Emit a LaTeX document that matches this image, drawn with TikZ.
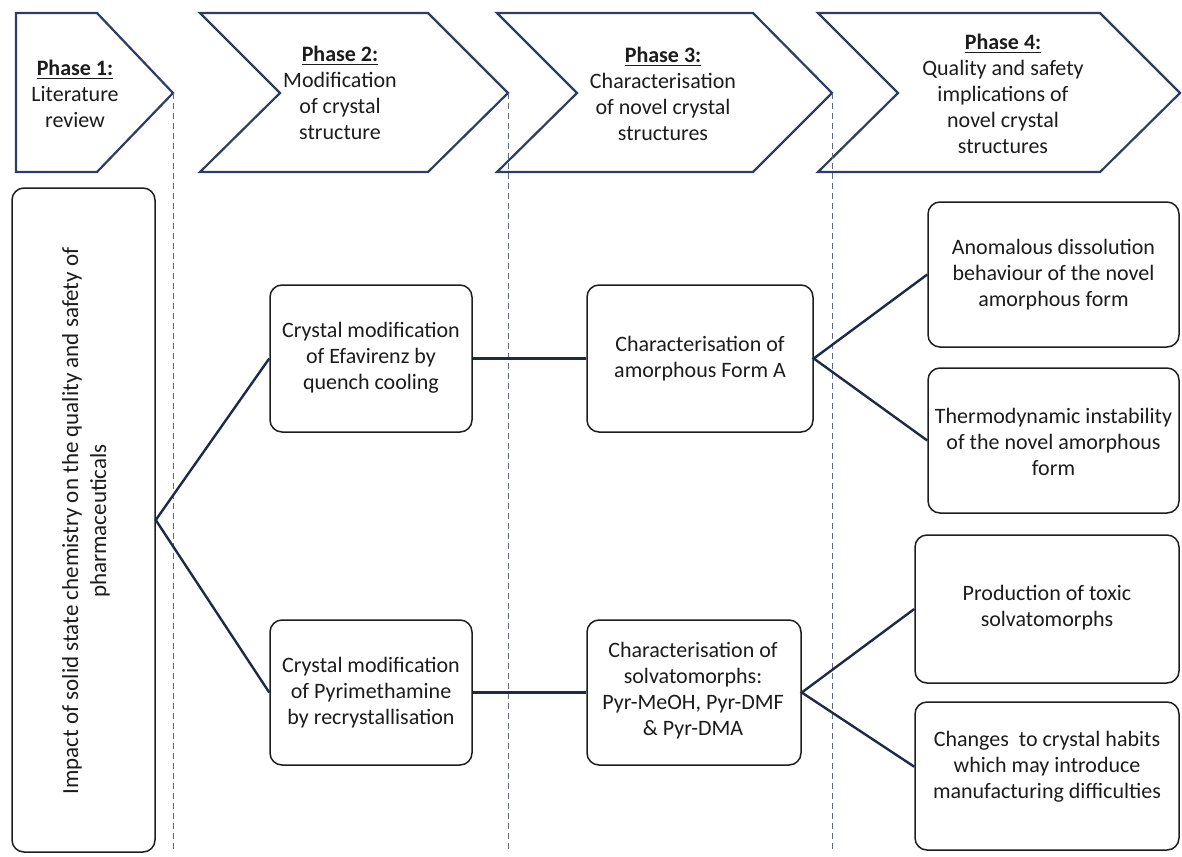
\documentclass[tikz,border=0pt]{standalone}
\usepackage{fontspec}
\setmainfont{Carlito}
\definecolor{chevblue}{RGB}{44,62,98}
\definecolor{guidegray}{RGB}{95,105,125}
\definecolor{boxblack}{RGB}{30,30,30}
\definecolor{textgray}{RGB}{28,28,28}
\definecolor{linkblue}{RGB}{30,42,70}
\newcommand{\phasehead}[1]{\underline{\textbf{#1}}}
\begin{document}
\begin{tikzpicture}[x=0.5pt,y=-0.5pt,
  chev/.style={draw=chevblue, line width=1.1pt, line join=miter, fill=white},
  guide/.style={draw=guidegray, line width=0.5pt, dash pattern=on 3pt off 2pt},
  box/.style={draw=boxblack, line width=0.75pt, rounded corners=6pt, fill=white, inner sep=0pt},
  txt/.style={align=center, text=textgray, font=\fontsize{11}{13}\selectfont, inner sep=0pt},
  link/.style={draw=linkblue, line width=1.2pt}]
\useasboundingbox (0,0) rectangle (1182,856);

% phase banners
\draw[chev] (16,13) -- (97,13) -- (173,93) -- (97,172) -- (16,172) -- cycle;
\draw[chev] (200,13) -- (428,13) -- (508,93) -- (428,172) -- (200,172) -- (280,93) -- cycle;
\draw[chev] (497,13) -- (753,13) -- (832,93) -- (753,172) -- (497,172) -- (577,93) -- cycle;
\draw[chev] (818,13) -- (1100,13) -- (1180,93) -- (1100,172) -- (818,172) -- (898,93) -- cycle;

\node[txt] (ph1) at (75,94) {\phasehead{Phase 1:}\\Literature\\review};
\node[txt] (ph2) at (340,93) {\phasehead{Phase 2:}\\Modification\\of crystal\\structure};
\node[txt] (ph3) at (663,94) {\phasehead{Phase 3:}\\Characterisation\\of novel crystal\\structures};
\node[txt] (ph4) at (1003,94) {\phasehead{Phase 4:}\\Quality and safety\\implications of\\novel crystal\\structures};

% phase separators
\coordinate (g1t) at (173,93);  \coordinate (g1b) at (173,852);
\coordinate (g2t) at (508,93);  \coordinate (g2b) at (508,852);
\coordinate (g3t) at (832,93);  \coordinate (g3b) at (832,852);
\draw[guide] (g1t) -- (g1b);
\draw[guide] (g2t) -- (g2b);
\draw[guide] (g3t) -- (g3b);

% boxes
\node[box, minimum width=71.5pt, minimum height=332pt] (imp) at (83.5,520) {};
\node[box, minimum width=101pt, minimum height=73.5pt] (p2a) at (371,358.5) {};
\node[box, minimum width=113pt, minimum height=73.5pt] (p3a) at (700,358.5) {};
\node[box, minimum width=101pt, minimum height=72.5pt] (p2b) at (371,692.5) {};
\node[box, minimum width=107pt, minimum height=72.5pt] (p3b) at (694,692.5) {};
\node[box, minimum width=125.5pt, minimum height=72.5pt] (p4a) at (1053.5,274.5) {};
\node[box, minimum width=125.5pt, minimum height=72.5pt] (p4b) at (1053.5,440.5) {};
\node[box, minimum width=132pt, minimum height=74pt] (p4c) at (1047,609) {};
\node[box, minimum width=132pt, minimum height=74pt] (p4d) at (1047,776) {};

% box texts
\node[txt, rotate=90, font=\fontsize{11.5}{14}\selectfont] (impt) at (86,521) {Impact of solid state chemistry on the quality and safety of\\pharmaceuticals};
\node[txt] (p2at) at (371,358) {Crystal modification\\of Efavirenz by\\quench cooling};
\node[txt] (p3at) at (700,359) {Characterisation of\\amorphous Form A};
\node[txt] (p2bt) at (371,693) {Crystal modification\\of Pyrimethamine\\by recrystallisation};
\node[txt] (p3bt) at (693,691) {Characterisation of\\solvatomorphs:\\Pyr-MeOH, Pyr-DMF\\\& Pyr-DMA};
\node[txt] (p4at) at (1053.5,275) {Anomalous dissolution\\behaviour of the novel\\amorphous form};
\node[txt] (p4bt) at (1053.5,442) {Thermodynamic instability\\of the novel amorphous\\form};
\node[txt] (p4ct) at (1047,608) {Production of toxic\\solvatomorphs};
\node[txt] (p4dt) at (1047,767) {Changes\ \ to crystal habits\\which may introduce\\manufacturing difficulties};

% connectors
\draw[link] (p2a.west) -- (imp.east) -- (p2b.west);
\draw[link] (p2a.east) -- (p3a.west);
\draw[link] (p2b.east) -- (p3b.west);
\draw[link] (p4a.west) -- (p3a.east) -- (p4b.west);
\draw[link] (p4c.west) -- (p3b.east) -- (p4d.176);
\end{tikzpicture}
\end{document}
